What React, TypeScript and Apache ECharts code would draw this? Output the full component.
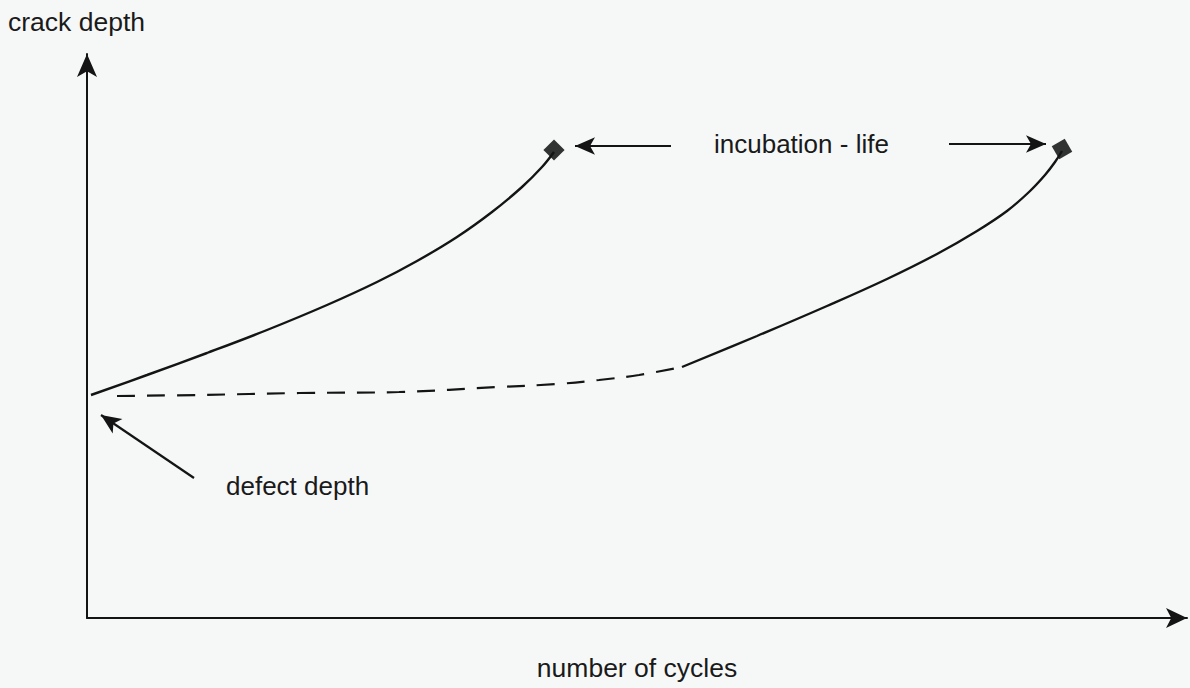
import React, { useEffect, useRef } from "react";
import * as echarts from "echarts";

// Schematic values (x = cycles units, y = depth units)
const curve1: [number, number][] = [
  [4, 223], [60, 243], [120, 265], [180, 288], [240, 313], [290, 336], [330, 357], [370, 381],
  [405, 406], [435, 431], [455, 451], [467, 466],
];
const curve2Dashed: [number, number][] = [
  [30, 222], [112, 223], [212, 225], [312, 226], [412, 231], [470, 234], [512, 238], [552, 243], [595, 251],
];
const curve2Solid: [number, number][] = [
  [595, 251], [670, 282], [740, 312], [800, 339], [850, 364], [890, 387], [920, 407], [942, 426],
  [958, 443], [968, 456], [975, 467],
];
const incubationPoints: [number, number][] = [[467, 468], [975, 469]];
const incubationRotations = [45, 30];

// Annotation arrows (from -> to) in data units
const arrowLeft: [[number, number], [number, number]] = [[584, 472], [488, 472]];
const arrowRight: [[number, number], [number, number]] = [[862, 474], [959, 474]];
const arrowDefect: [[number, number], [number, number]] = [[107, 140], [14, 203]];

const labels = {
  yTitle: "crack depth",
  xTitle: "number of cycles",
  incubation: "incubation - life",
  defect: "defect depth",
};

const FONT = '"Liberation Sans", Arial, Helvetica, sans-serif';
const INK = "#141414";
const TXT = "#1a1a1a";

export default function App() {
  const ref = useRef<HTMLDivElement>(null);
  useEffect(() => {
    if (!ref.current) return;
    const chart = echarts.init(ref.current, undefined, { renderer: "svg" });
    const mkArrow = (a: [[number, number], [number, number]]) => [
      { coord: a[0] },
      { coord: a[1] },
    ];
    chart.setOption({
      animation: false,
      backgroundColor: "#f6f8f8",
      grid: { left: 87, top: 54, width: 1100, height: 564, containLabel: false },
      xAxis: {
        type: "value",
        min: 0,
        max: 1100,
        name: labels.xTitle,
        nameLocation: "middle",
        nameGap: 36,
        nameTextStyle: { fontFamily: FONT, fontSize: 26.5, color: TXT },
        axisLine: {
          show: true,
          symbol: ["none", "arrow"],
          symbolSize: [15, 21],
          lineStyle: { color: INK, width: 2 },
        },
        axisTick: { show: false },
        axisLabel: { show: false },
        splitLine: { show: false },
      },
      yAxis: {
        type: "value",
        min: 0,
        max: 564,
        axisLine: {
          show: true,
          symbol: ["none", "arrow"],
          symbolSize: [15, 23],
          lineStyle: { color: INK, width: 2 },
        },
        axisTick: { show: false },
        axisLabel: { show: false },
        splitLine: { show: false },
      },
      graphic: [
        {
          type: "text",
          left: 8,
          top: 8,
          style: { text: labels.yTitle, font: `26.5px ${FONT}`, fill: TXT },
        },
        {
          type: "text",
          left: 714,
          top: 131,
          style: { text: labels.incubation, font: `26px ${FONT}`, fill: TXT },
        },
        {
          type: "text",
          left: 226,
          top: 473,
          style: { text: labels.defect, font: `26px ${FONT}`, fill: TXT },
        },
      ],
      series: [
        {
          type: "line",
          data: curve1,
          smooth: 0.4,
          symbol: "none",
          lineStyle: { color: INK, width: 2.4 },
          silent: true,
          markLine: {
            silent: true,
            symbol: ["none", "arrow"],
            symbolSize: [13, 20],
            label: { show: false },
            lineStyle: { color: INK, width: 2.2, type: "solid" },
            data: [mkArrow(arrowLeft), mkArrow(arrowRight), mkArrow(arrowDefect)],
          },
        },
        {
          type: "line",
          data: curve2Dashed,
          smooth: 0.35,
          symbol: "none",
          lineStyle: { color: INK, width: 2.2, type: [18, 12] },
          silent: true,
        },
        {
          type: "line",
          data: curve2Solid,
          smooth: 0.4,
          symbol: "none",
          lineStyle: { color: INK, width: 2.4 },
          silent: true,
        },
        {
          type: "scatter",
          data: incubationPoints.map((p, i) => ({ value: p, symbolRotate: incubationRotations[i] })),
          symbol: "rect",
          symbolSize: 15,
          itemStyle: { color: "#000" },
          silent: true,
        },
      ],
    });
    return () => chart.dispose();
  }, []);
  return (
    <div
      ref={ref}
      style={{ position: "fixed", left: 0, top: 0, width: 1190, height: 688, background: "#f6f8f8" }}
    />
  );
}
